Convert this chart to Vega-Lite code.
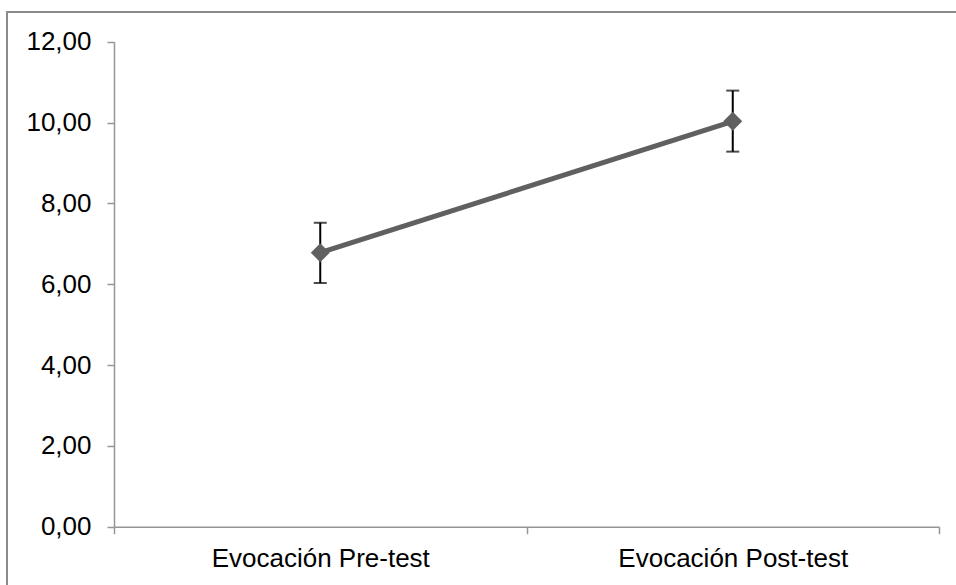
{
  "$schema": "https://vega.github.io/schema/vega-lite/v6.json",
  "width": 960,
  "height": 580,
  "autosize": {"type": "none"},
  "padding": {"left": 7, "top": 12, "right": 0, "bottom": 0},
  "background": "white",
  "config": {
    "view": {"stroke": "#8a8a8a", "strokeWidth": 2},
    "font": "Liberation Sans",
    "axis": {
      "domainColor": "#969696",
      "domainWidth": 1.5,
      "tickColor": "#969696",
      "tickWidth": 1.5,
      "tickSize": 7,
      "labelColor": "#000000",
      "labelFont": "Liberation Sans",
      "labelFontSize": 26,
      "labelLimit": 500,
      "grid": false,
      "title": null
    }
  },
  "data": {
    "values": [
      {"momento": "Evocación Pre-test", "media": 6.78, "inf": 6.03, "sup": 7.52},
      {"momento": "Evocación Post-test", "media": 10.03, "inf": 9.28, "sup": 10.79}
    ]
  },
  "encoding": {
    "x": {
      "field": "momento",
      "type": "nominal",
      "sort": null,
      "scale": {"type": "band", "range": [107, 932], "paddingInner": 0, "paddingOuter": 0},
      "axis": {"labelAngle": 0, "tickBand": "extent", "offset": -65.3, "labelPadding": 12}
    }
  },
  "layer": [
    {
      "mark": {"type": "line", "color": "#606060", "strokeWidth": 5},
      "encoding": {
        "y": {
          "field": "media",
          "type": "quantitative",
          "scale": {"domain": [0, 12], "range": [514.7, 29.7], "nice": false, "zero": true},
          "axis": {
            "values": [0, 2, 4, 6, 8, 10, 12],
            "offset": -107,
            "labelPadding": 16,
            "labelExpr": "replace(format(datum.value, '.2f'), '.', ',')"
          }
        }
      }
    },
    {
      "mark": {"type": "rule", "color": "#000000", "strokeWidth": 2},
      "encoding": {
        "y": {"field": "inf", "type": "quantitative"},
        "y2": {"field": "sup"}
      }
    },
    {
      "mark": {"type": "tick", "color": "#000000", "orient": "horizontal", "size": 13, "thickness": 2},
      "encoding": {"y": {"field": "inf", "type": "quantitative"}}
    },
    {
      "mark": {"type": "tick", "color": "#000000", "orient": "horizontal", "size": 13, "thickness": 2},
      "encoding": {"y": {"field": "sup", "type": "quantitative"}}
    },
    {
      "mark": {"type": "point", "shape": "diamond", "filled": true, "color": "#606060", "size": 360, "opacity": 1},
      "encoding": {"y": {"field": "media", "type": "quantitative"}}
    }
  ]
}
